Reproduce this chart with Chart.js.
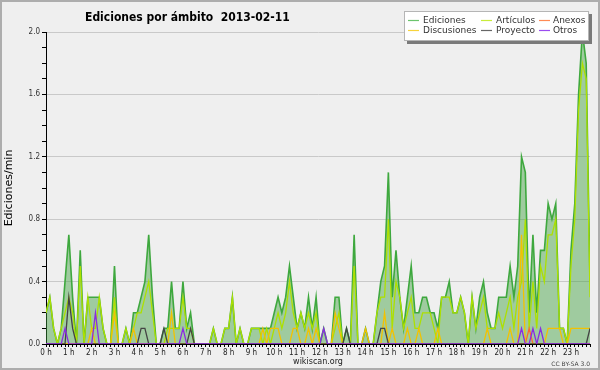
<!DOCTYPE html>
<html><head><meta charset="utf-8">
<script src="https://cdn.jsdelivr.net/npm/chart.js@4.4.0/dist/chart.umd.min.js"></script>
<style>html,body{margin:0;padding:0;background:#efefef;}canvas{display:block;}</style>
</head><body>
<canvas id="c" width="600" height="370" style="width:600px;height:370px"></canvas>
<script>
// ---- data (10-minute slots, edits per minute) ----
const titleText = 'Ediciones por ámbito  2013-02-11';
const hourLabels = ['0 h','1 h','2 h','3 h','4 h','5 h','6 h','7 h','8 h','9 h','10 h','11 h',
  '12 h','13 h','14 h','15 h','16 h','17 h','18 h','19 h','20 h','21 h','22 h','23 h'];
const yTickLabels = ['0.0','0.4','0.8','1.2','1.6','2.0'];
const seriesNames = ['Ediciones','Artículos','Anexos','Discusiones','Proyecto','Otros'];

const ediciones = [
  0.2,0.3,0.1,0,0.1,0.4,0.7,0.3,0,0.6,0,0.3,
  0.3,0.3,0.3,0.1,0,0,0.5,0,0,0.1,0,0.2,
  0.2,0.3,0.4,0.7,0.3,0,0,0.1,0.1,0.4,0.1,0.1,
  0.4,0.1,0.2,0,0,0,0,0,0.1,0,0,0.1,
  0.1,0.3,0,0.1,0,0,0.1,0.1,0.1,0.1,0.1,0.1,
  0.2,0.3,0.2,0.3,0.5,0.3,0.1,0.2,0.1,0.3,0.1,0.3,
  0,0.1,0,0,0.3,0.3,0,0.1,0,0.7,0,0,
  0.1,0,0,0.2,0.4,0.5,1.1,0.3,0.6,0.3,0.1,0.3,
  0.5,0.2,0.2,0.3,0.3,0.2,0.2,0.1,0.3,0.3,0.4,0.2,
  0.2,0.3,0.2,0,0.3,0.1,0.3,0.4,0.2,0.1,0.1,0.3,
  0.3,0.3,0.5,0.3,0.5,1.2,1.1,0.2,0.7,0.2,0.6,0.6,
  0.9,0.8,0.9,0.1,0.1,0,0.6,0.9,1.6,2.0,1.8,0.4
];
const articulos = [
  0.2,0.3,0.1,0,0.1,0.2,0.3,0.2,0,0.5,0,0.3,
  0.1,0.1,0.3,0.1,0,0,0.3,0,0,0.1,0,0.1,
  0.2,0.2,0.3,0.4,0.2,0,0,0,0.1,0.1,0.1,0.1,
  0.3,0.1,0.1,0,0,0,0,0,0.1,0,0,0.1,
  0.1,0.3,0,0.1,0,0,0.1,0.1,0.1,0,0.1,0,
  0.1,0.2,0.1,0.2,0.4,0.2,0.1,0.2,0.1,0.2,0.1,0.2,
  0,0,0,0,0.1,0.2,0,0,0,0.5,0,0,
  0,0,0,0.2,0.3,0.3,0.8,0.1,0.4,0.3,0.1,0.2,
  0.3,0.1,0.1,0.2,0.2,0.2,0.1,0,0.3,0.3,0.3,0.2,
  0.2,0.3,0.2,0,0.3,0.1,0.2,0.3,0.1,0.1,0.1,0.2,
  0.1,0.2,0.3,0.1,0.3,0.4,0.8,0.1,0.4,0.1,0.5,0.4,
  0.7,0.7,0.8,0.1,0.1,0,0.5,0.8,1.5,1.8,1.7,0.3
];
const anexos = [
  0,0,0,0,0,0,0,0,0,0,0,0,
  0,0,0,0,0,0,0,0,0,0,0,0,
  0,0,0,0,0,0,0,0,0,0,0,0,
  0,0,0,0,0,0,0,0,0,0,0,0,
  0,0,0,0,0,0,0,0,0,0,0,0,
  0,0,0,0,0,0,0,0,0,0,0,0,
  0,0,0,0,0,0,0,0,0,0,0,0,
  0,0,0,0,0,0,0,0,0,0,0,0,
  0,0,0,0,0,0,0,0,0,0,0,0,
  0,0,0,0,0,0,0,0,0,0,0,0,
  0,0,0,0,0,0,0,0.1,0,0,0,0,
  0,0,0,0,0,0,0,0,0,0,0,0
];
const discusiones = [
  0,0,0,0,0,0,0,0,0,0,0,0,
  0.1,0,0,0,0,0,0.2,0,0,0,0,0.1,
  0,0,0,0,0,0,0,0,0,0.2,0,0,
  0,0,0,0,0,0,0,0,0,0,0,0,
  0,0,0,0,0,0,0,0,0,0.1,0,0.1,
  0.1,0.1,0,0,0,0.1,0.1,0,0,0.1,0,0.1,
  0,0,0,0,0.2,0.1,0,0,0,0,0,0,
  0.1,0,0,0,0,0.2,0,0.1,0,0,0,0.1,
  0,0,0.1,0,0,0,0,0.1,0,0,0,0,
  0,0,0,0,0,0,0,0,0.1,0,0,0,
  0,0,0.1,0,0,0.7,0,0,0,0,0,0,
  0.1,0.1,0.1,0.1,0,0,0.1,0.1,0.1,0.1,0.1,0.1
];
const proyecto = [
  0,0,0,0,0,0,0.3,0.1,0,0,0,0,
  0,0,0,0,0,0,0,0,0,0,0,0,
  0,0.1,0.1,0,0,0,0,0.1,0,0,0,0,
  0,0,0.1,0,0,0,0,0,0,0,0,0,
  0,0,0,0,0,0,0,0,0,0,0,0,
  0,0,0,0,0,0,0,0,0,0,0,0,
  0,0,0,0,0,0,0,0.1,0,0,0,0,
  0,0,0,0,0.1,0.1,0,0,0,0,0,0,
  0,0,0,0,0,0,0,0,0,0,0,0,
  0,0,0,0,0,0,0,0,0,0,0,0,
  0,0,0,0,0,0,0,0,0,0,0,0,
  0,0,0,0,0,0,0,0,0,0,0,0.1
];
const otros = [
  0,0,0,0,0,0.1,0,0,0,0,0,0,
  0,0.2,0,0,0,0,0,0,0,0,0,0,
  0,0,0,0,0,0,0,0,0,0,0,0,
  0.1,0,0,0,0,0,0,0,0,0,0,0,
  0,0,0,0,0,0,0,0,0,0,0,0,
  0,0,0,0,0,0,0,0,0,0,0,0,
  0,0.1,0,0,0,0,0,0,0,0,0,0,
  0,0,0,0,0,0,0,0,0,0,0,0,
  0,0,0,0,0,0,0,0,0,0,0,0,
  0,0,0,0,0,0,0,0,0,0,0,0,
  0,0,0,0,0,0.1,0,0,0.1,0,0.1,0,
  0,0,0,0,0,0,0,0,0,0,0,0
];

// ---- styling ----
const colors = {
  Ediciones: '#3ea83e', 'Artículos': '#ade000', Anexos: '#ff6a2a',
  Discusiones: '#f2c200', Proyecto: '#444444', Otros: '#8a2be2'
};
const legendColors = {
  Ediciones: '#6cc46c', 'Artículos': '#c8ec3a', Anexos: '#ff8a55',
  Discusiones: '#f7d33c', Proyecto: '#666666', Otros: '#9b4cf0'
};
const seriesData = [ediciones, articulos, anexos, discusiones, proyecto, otros];
const drawOrder = [10, 5, 4, 3, 2, 1];

const datasets = seriesNames.map((name, k) => ({
  label: name,
  data: seriesData[k].map((v, i) => ({x: i, y: v})),
  borderColor: colors[name],
  backgroundColor: k === 0 ? 'rgba(62,160,62,0.45)' : colors[name],
  fill: k === 0 ? 'origin' : false,
  borderWidth: k === 0 ? 1.6 : 1.3,
  pointRadius: 0,
  tension: 0,
  order: drawOrder[k]
}));

const decor = {
  id: 'decor',
  beforeDraw(chart) {
    const c = chart.ctx;
    c.save();
    c.fillStyle = '#efefef';
    c.fillRect(0, 0, chart.width, chart.height);
    c.restore();
  },
  afterDraw(chart) {
    const c = chart.ctx;
    c.save();
    c.strokeStyle = '#adadad';
    c.lineWidth = 2;
    c.strokeRect(1, 1, chart.width - 2, chart.height - 2);
    // title
    c.fillStyle = '#000';
    c.font = 'bold 12px "DejaVu Sans Condensed", "DejaVu Sans", sans-serif';
    c.textAlign = 'left';
    c.textBaseline = 'alphabetic';
    c.fillText(titleText, 85, 21);
    // licence
    c.font = '6px "DejaVu Sans", sans-serif';
    c.fillStyle = '#444';
    c.textAlign = 'right';
    c.fillText('CC BY-SA 3.0', 590, 366);
    // legend box
    const bx = 404, by = 11, bw = 185, bh = 30;
    c.fillStyle = '#7a7a7a';
    c.fillRect(bx + 3, by + 3, bw, bh);
    c.fillStyle = '#ffffff';
    c.fillRect(bx, by, bw, bh);
    c.strokeStyle = '#b5b5b5';
    c.lineWidth = 1;
    c.strokeRect(bx + 0.5, by + 0.5, bw - 1, bh - 1);
    const layout = [
      ['Ediciones', 0, 0], ['Discusiones', 0, 1],
      ['Artículos', 1, 0], ['Proyecto', 1, 1],
      ['Anexos', 2, 0], ['Otros', 2, 1]
    ];
    const lineX = [408, 481, 539], textX = [423, 496, 553], rowY = [20, 30];
    c.font = '9px "DejaVu Sans", sans-serif';
    c.textAlign = 'left';
    c.textBaseline = 'middle';
    layout.forEach(([name, col, row]) => {
      c.strokeStyle = legendColors[name];
      c.lineWidth = 1.2;
      c.beginPath();
      c.moveTo(lineX[col], rowY[row] + 0.5);
      c.lineTo(lineX[col] + 11, rowY[row] + 0.5);
      c.stroke();
      c.fillStyle = '#333';
      c.fillText(name, textX[col], rowY[row] + 0.5);
    });
    c.restore();
  }
};

new Chart(document.getElementById('c'), {
  type: 'line',
  data: { datasets },
  plugins: [decor],
  options: {
    responsive: false,
    animation: false,
    devicePixelRatio: 1,
    layout: { padding: { left: 0, right: 10, top: 32, bottom: 0 } },
    plugins: { legend: { display: false }, title: { display: false }, tooltip: { enabled: false } },
    scales: {
      x: {
        type: 'linear', min: 0, max: 143,
        afterFit(s) { s.height = 26; },
        border: { display: true, color: '#000', width: 1 },
        grid: { drawOnChartArea: false, drawTicks: true, tickLength: 3, tickColor: '#000', color: '#000' },
        ticks: {
          stepSize: 1, autoSkip: false, maxRotation: 0, minRotation: 0, maxTicksLimit: 1000,
          padding: 1, color: '#222',
          font: { family: '"DejaVu Sans Condensed", "DejaVu Sans"', size: 8 },
          callback: v => (v % 6 === 0) ? hourLabels[v / 6] : ''
        },
        title: { display: true, text: 'wikiscan.org', color: '#222',
          font: { family: '"DejaVu Sans"', size: 8 }, padding: { top: 0, bottom: 3 } }
      },
      y: {
        min: 0, max: 2,
        afterFit(s) { s.width = 46; },
        border: { display: true, color: '#000', width: 1 },
        grid: {
          color: ctx => { const k = Math.round(ctx.tick.value * 10); return (k > 0 && k % 4 === 0) ? '#c9c9c9' : 'rgba(0,0,0,0)'; },
          tickColor: '#000', tickLength: 4, lineWidth: 1
        },
        ticks: {
          stepSize: 0.1, autoSkip: false, maxTicksLimit: 1000, padding: 2, color: '#333',
          font: { family: '"DejaVu Sans Condensed", "DejaVu Sans"', size: 8 },
          callback: v => { const k = Math.round(v * 10); return k % 4 === 0 ? yTickLabels[k / 4] : ''; }
        },
        title: { display: true, text: 'Ediciones/min', color: '#000',
          font: { family: '"DejaVu Sans"', size: 11 }, padding: { top: 3, bottom: 0 } }
      }
    }
  }
});
</script>
</body></html>
